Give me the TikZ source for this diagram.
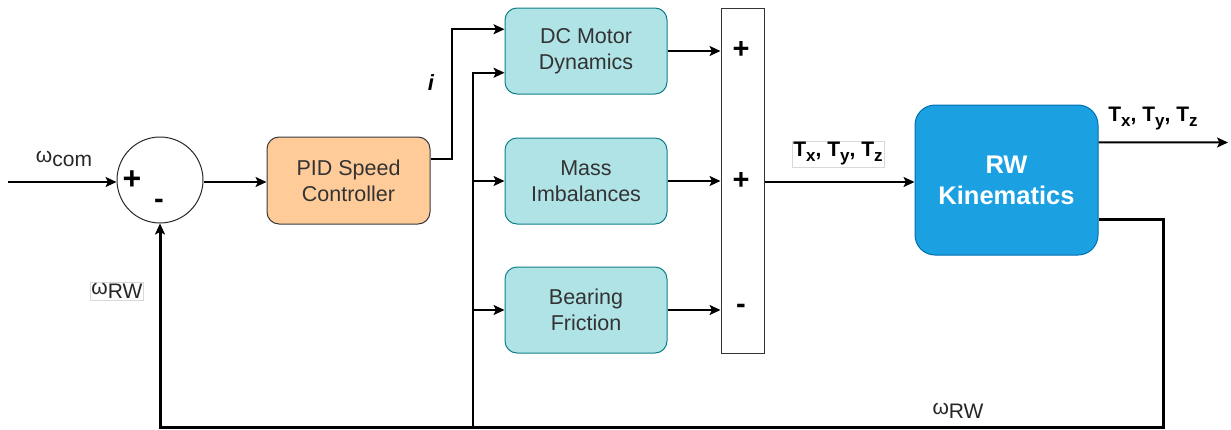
\documentclass[tikz,border=0pt]{standalone}
\usepackage{fontspec}
\setmainfont{Liberation Sans}
\usetikzlibrary{arrows.meta,calc}

\definecolor{tealfill}{HTML}{B0E3E6}
\definecolor{tealline}{HTML}{0E8088}
\definecolor{orfill}{HTML}{FFCC99}
\definecolor{orline}{HTML}{36393D}
\definecolor{rwfill}{HTML}{1BA1E2}
\definecolor{rwline}{HTML}{006EAF}
\definecolor{txt}{HTML}{333333}

% lowered, slightly smaller subscript as used in the torque labels
\newcommand{\lowsub}[1]{\raisebox{-0.45ex}{\fontsize{17}{17}\selectfont #1}}
% lowered subscript at full size, for the speed labels
\newcommand{\spdsub}[1]{\raisebox{-0.4ex}{#1}}

\begin{document}
\begin{tikzpicture}[x=1pt,y=-1pt,
  block/.style={rounded corners=12pt, minimum width=162pt, minimum height=86pt,
    inner sep=0pt, align=center, font=\fontsize{21.5}{26}\selectfont, text=txt, line width=1pt},
  motor/.style={block, fill=tealfill, draw=tealline},
  ctrl/.style={block, fill=orfill, draw=orline, minimum width=163pt, minimum height=87pt},
  kin/.style={block, fill=rwfill, draw=rwline, rounded corners=20pt,
    minimum width=183pt, minimum height=150pt, text=white,
    font=\fontsize{25.5}{31}\selectfont\bfseries},
  sumcircle/.style={circle, draw=black!85, line width=1pt, minimum size=86pt, inner sep=0pt},
  sumbar/.style={rectangle, draw=black!80, line width=1pt, minimum width=43pt,
    minimum height=345pt, inner sep=0pt},
  sign/.style={inner sep=0pt, font=\fontsize{29}{29}\selectfont\bfseries, text=black},
  lbl/.style={inner sep=1pt, font=\fontsize{21}{23}\selectfont, text=black!85},
  tlbl/.style={inner sep=1.5pt, font=\fontsize{21}{22}\selectfont\bfseries, text=black},
  tip/.style={-{Stealth[length=11pt,width=10pt,inset=2.5pt]}},
  conn/.style={line width=2pt, tip},
  feed/.style={line width=3pt, tip},
  wire/.style={line width=2pt},
]
\useasboundingbox (0,0) rectangle (1231,429);

% blocks
\node[sumcircle] (sum) at (160,180) {};
\node[ctrl] (pid) at (348.5,180.5) {PID Speed\\Controller};
\node[motor] (dc) at (586,51) {DC Motor\\Dynamics};
\node[motor] (mass) at (586,181) {Mass\\Imbalances};
\node[motor] (bear) at (586,310) {Bearing\\Friction};
\node[sumbar] (bar) at (742.5,180.5) {};
\node[kin] (rw) at (1006.5,180) {RW\\Kinematics};

% signs
\node[sign, font=\fontsize{32}{32}\selectfont\bfseries] (sp) at (132,180) {+};
\node[sign] (sm) at (159,204) {-};
\node[sign] (bp1) at (741,50) {+};
\node[sign] (bp2) at (741,181) {+};
\node[sign] (bm) at (741,309) {-};

% free ends and junctions
\coordinate (in) at (8,182);
\coordinate (out) at (1228,142.5);
\coordinate (fbL) at (160,427);
\coordinate (fbR) at (1163,427);
\coordinate (br) at (473,427);

% forward path
\draw[conn] (in) -- (sum.west |- in);
\draw[conn] (sum.east |- in) -- (pid.west |- in);
\draw[conn] ($(pid.north east)!0.25!(pid.south east)$) -- ++(21,0)
  |- ($(dc.north west)!0.25!(dc.south west)$);
\draw[conn] (br) |- ($(dc.north west)!0.75!(dc.south west)$);
\draw[conn] (br |- mass.west) -- (mass.west);
\draw[conn] (br |- bear.west) -- (bear.west);
\draw[conn] (dc.east) -- (dc.east -| bar.west);
\draw[conn] (mass.east) -- (mass.east -| bar.west);
\draw[conn] (bear.east) -- (bear.east -| bar.west);
\draw[conn] (bar.east |- in) -- (rw.west |- in);
\draw[conn] ($(rw.north east)!0.25!(rw.south east)$) -- (out);

% feedback path
\draw[wire] (br) -- (fbR);
\draw[feed] ($(rw.north east)!0.76!(rw.south east)$) -| (fbR) -- (fbL) -- (sum.south);

% labels
\node[lbl] (wcom) at (64,159) {ω\spdsub{com}};
\node[lbl, draw=black!15, line width=0.6pt] (wrw1) at (117,291) {ω\spdsub{RW}};
\node[lbl] (wrw2) at (958,411) {ω\spdsub{RW}};
\node[inner sep=0pt, font=\fontsize{22}{22}\selectfont\bfseries\itshape] (cur) at (431,83) {i};
\node[tlbl, draw=black!15, line width=0.6pt] (tin) at (838,154) {T\lowsub{x}, T\lowsub{y}, T\lowsub{z}};
\node[tlbl] (tout) at (1153,119) {T\lowsub{x}, T\lowsub{y}, T\lowsub{z}};
\end{tikzpicture}
\end{document}
